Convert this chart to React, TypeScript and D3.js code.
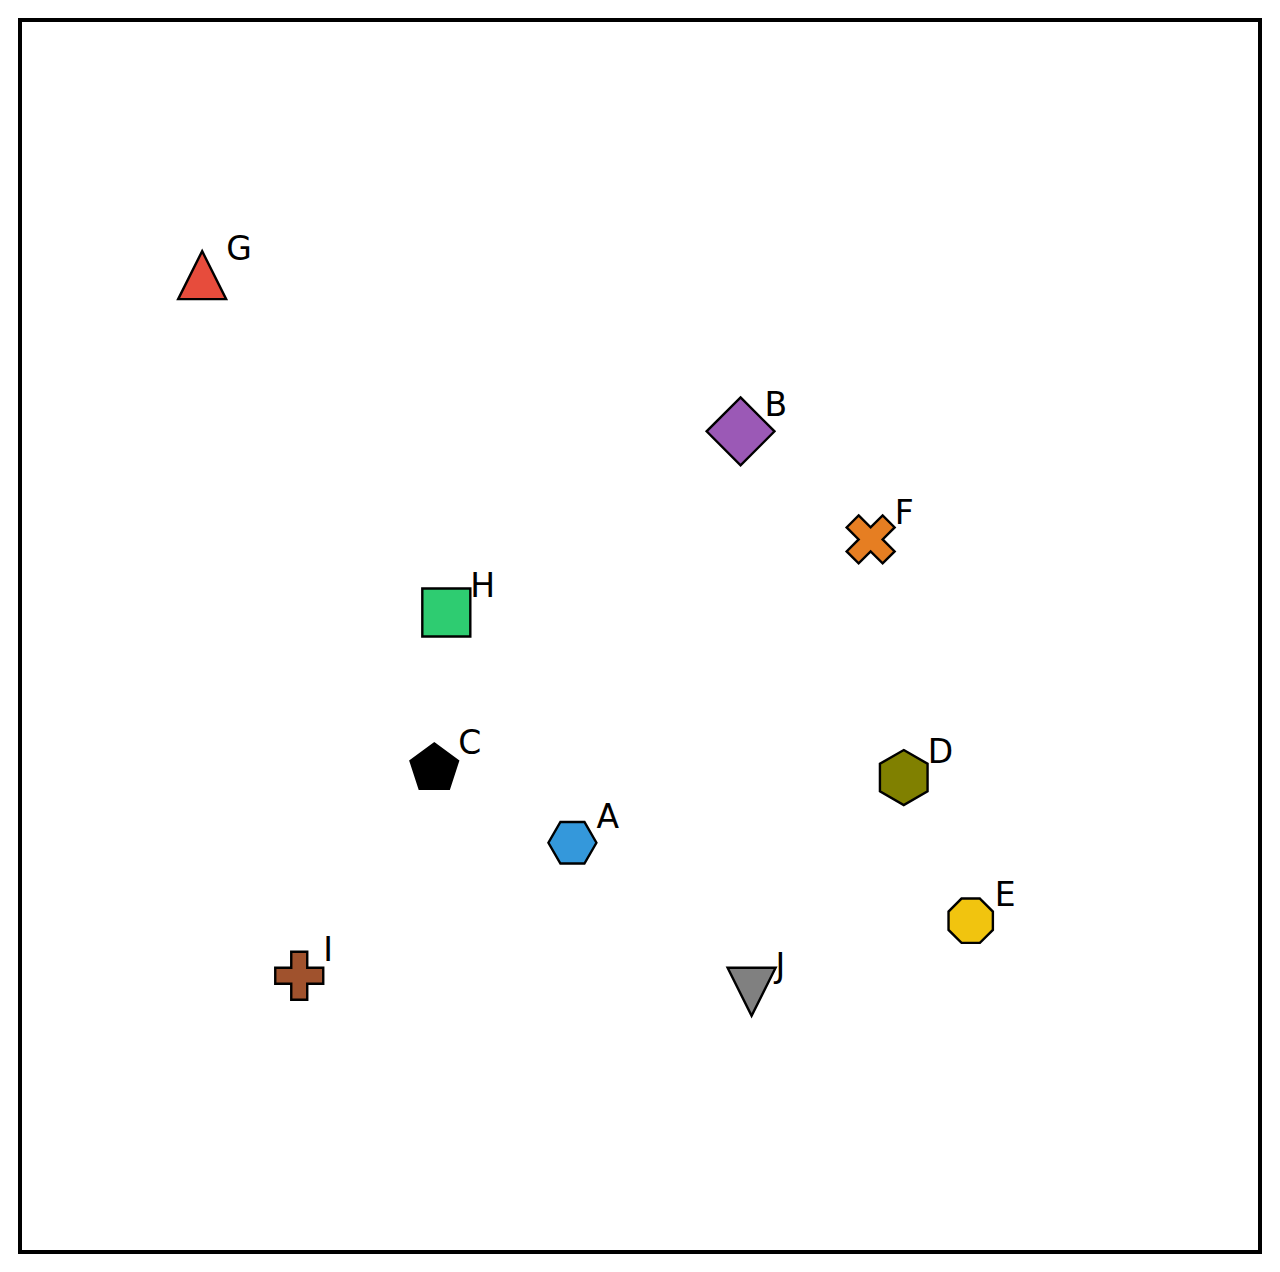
import React, { useEffect } from "react";
import * as d3 from "d3";

// Data (domain 0..100 on both axes)
const labels = ["A", "B", "C", "D", "E", "F", "G", "H", "I", "J"];
const xValues = [44.55, 58.11, 33.41, 71.27, 76.67, 68.6, 14.69, 34.38, 22.52, 59.0];
const yValues = [33.22, 66.61, 39.24, 38.51, 26.89, 57.84, 79.29, 51.91, 22.42, 21.12];

// Styles (shape, fill, size in px)
const shapes = ["hexFlat", "diamond", "pentagon", "hexPointy", "octagon", "xFilled", "triUp", "square", "plusFilled", "triDown"];
const fills = ["#3498db", "#9b59b6", "#000000", "#808000", "#f1c40f", "#e67e22", "#e74c3c", "#2ecc71", "#a0522d", "#808080"];
const sizes = [48, 48, 50, 55, 48, 48, 48, 48, 48, 48];

const W = 1280;
const H = 1272;
const box = { left: 20, top: 20, right: 1260, bottom: 1252 };

function polygon(n: number, r: number, rot: number): [number, number][] {
  const pts: [number, number][] = [];
  for (let i = 0; i < n; i++) {
    const a = rot + (i * 2 * Math.PI) / n;
    pts.push([r * Math.sin(a), -r * Math.cos(a)]);
  }
  return pts;
}

function shapePoints(shape: string, s: number): [number, number][] {
  const h = s / 2;
  switch (shape) {
    case "hexFlat":
      return polygon(6, h, Math.PI / 6);
    case "hexPointy":
      return polygon(6, h, 0);
    case "pentagon":
      return polygon(5, h, 0);
    case "octagon":
      return polygon(8, h, Math.PI / 8);
    case "diamond": {
      const d = (s * Math.SQRT2) / 2;
      return [[0, -d], [d, 0], [0, d], [-d, 0]];
    }
    case "square":
      return [[-h, -h], [h, -h], [h, h], [-h, h]];
    case "triUp":
      return [[0, -h], [h, h], [-h, h]];
    case "triDown":
      return [[-h, -h], [h, -h], [0, h]];
    case "plusFilled": {
      const raw = [[-1, -3], [-1, -1], [-3, -1], [-3, 1], [-1, 1], [-1, 3], [1, 3], [1, 1], [3, 1], [3, -1], [1, -1], [1, -3]];
      return raw.map(([x, y]) => [(x / 6) * s, (y / 6) * s] as [number, number]);
    }
    case "xFilled": {
      const raw = [[-1, -2], [0, -1], [1, -2], [2, -1], [1, 0], [2, 1], [1, 2], [0, 1], [-1, 2], [-2, 1], [-1, 0], [-2, -1]];
      return raw.map(([x, y]) => [(x / 4) * s, (y / 4) * s] as [number, number]);
    }
  }
  return [];
}

export default function App() {
  useEffect(() => {
    document.body.style.margin = "0";
  }, []);

  const x = d3.scaleLinear().domain([0, 100]).range([box.left, box.right]);
  const y = d3.scaleLinear().domain([0, 100]).range([box.bottom, box.top]);
  const line = d3.line().curve(d3.curveLinearClosed);

  return (
    <svg width={W} height={H} style={{ display: "block", background: "#fff" }}>
      <rect x={0} y={0} width={W} height={H} fill="#fff" />
      {labels.map((lab, i) => {
        const cx = x(xValues[i]);
        const cy = y(yValues[i]);
        const pts = shapePoints(shapes[i], sizes[i]).map(([px, py]) => [cx + px, cy + py] as [number, number]);
        return (
          <g key={lab}>
            <path
              d={line(pts) || ""}
              fill={fills[i]}
              stroke="#000"
              strokeWidth={2.4}
              strokeLinejoin="miter"
            />
            <text
              x={cx + 24}
              y={cy - 15}
              fontFamily="DejaVu Sans"
              fontSize={33}
              fill="#000"
            >
              {lab}
            </text>
          </g>
        );
      })}
      <rect
        x={box.left}
        y={box.top}
        width={box.right - box.left}
        height={box.bottom - box.top}
        fill="none"
        stroke="#000"
        strokeWidth={4}
      />
    </svg>
  );
}
